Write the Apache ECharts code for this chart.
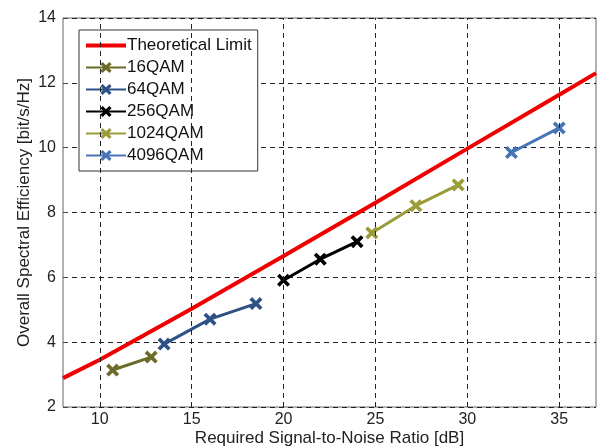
<!DOCTYPE html>
<html><head><meta charset="utf-8">
<script src="https://cdn.jsdelivr.net/npm/echarts@6/dist/echarts.min.js"></script>
<style>html,body{margin:0;padding:0;background:#fff}#c{width:601px;height:448px}</style>
</head><body><div id="c"></div>
<script>
var xTicks = [10, 15, 20, 25, 30, 35];
var limitSNR = [8, 10, 15, 20, 25, 30, 35, 37];
var limitSE = [2.89, 3.46, 5.03, 6.66, 8.3, 9.97, 11.63, 12.3];
var qam16SNR = [10.7, 12.8];
var qam16SE = [3.14, 3.54];
var qam64SNR = [13.5, 16.0, 18.5];
var qam64SE = [3.94, 4.71, 5.19];
var qam256SNR = [20.0, 22.0, 24.0];
var qam256SE = [5.91, 6.56, 7.1];
var qam1024SNR = [24.8, 27.2, 29.5];
var qam1024SE = [7.37, 8.21, 8.85];
var qam4096SNR = [32.4, 35.0];
var qam4096SE = [9.85, 10.61];

function pairs(xs, ys){ return xs.map(function(x,i){ return [x, ys[i]]; }); }
var X = 'path://M0,2 L2,0 L5,3 L8,0 L10,2 L7,5 L10,8 L8,10 L5,7 L2,10 L0,8 L3,5 Z';
var BAR = 'path://M0,0 L40,0 L40,0.01 L0,0.01 Z M0,5 L40,5 L40,9 L0,9 Z M0,13.99 L40,13.99 L40,14 L0,14 Z';
function qam(name, xs, ys, color){
  return {name:name, type:'line', data:pairs(xs,ys), symbol:X, symbolSize:13,
    lineStyle:{color:color,width:3}, itemStyle:{color:color}, z:3, animation:false};
}
var font = 'Liberation Sans, Arial, sans-serif';
var chart = echarts.init(document.getElementById('c'));
chart.setOption({
  animation:false,
  grid:{left:63, right:5, top:18, bottom:41, show:true, borderColor:'#666', borderWidth:1,
    containLabel:false, outerBoundsMode:'none'},
  legend:{orient:'vertical', left:79, top:30, padding:[7,6,7,6], backgroundColor:'#fff',
    borderColor:'#333', borderWidth:1, itemWidth:40, itemHeight:14, itemGap:5,
    textStyle:{fontFamily:font, fontSize:17, color:'#111', padding:[0,0,0,-4]},
    data:[{name:'Theoretical Limit', icon:BAR, itemStyle:{color:'#f00000'}},'16QAM','64QAM','256QAM','1024QAM','4096QAM']},
  xAxis:{type:'value', min:8, max:37,
    name:'Required Signal-to-Noise Ratio [dB]', nameLocation:'middle', nameGap:23, nameMoveOverlap:false,
    nameTextStyle:{fontFamily:font, fontSize:17, color:'#222'},
    axisLine:{show:false},
    axisTick:{show:true, inside:true, length:5, lineStyle:{color:'#444'}, customValues:xTicks},
    axisLabel:{fontFamily:font, fontSize:16, color:'#222', margin:5, customValues:xTicks},
    splitLine:{show:false}},
  yAxis:{type:'value', min:2, max:14, interval:2,
    name:'Overall Spectral Efficiency [bit/s/Hz]', nameLocation:'middle', nameGap:30, nameMoveOverlap:false,
    nameTextStyle:{fontFamily:font, fontSize:17, color:'#222'},
    axisLine:{show:false},
    axisTick:{show:true, inside:true, length:5, lineStyle:{color:'#444'}},
    axisLabel:{fontFamily:font, fontSize:16, color:'#222', margin:7},
    splitLine:{show:true, lineStyle:{color:'#222', type:[5,4], width:1}}},
  series:[
    {name:'Theoretical Limit', type:'line', data:pairs(limitSNR, limitSE), symbol:'none', showSymbol:false,
      lineStyle:{color:'#f00000', width:4}, itemStyle:{color:'#f00000'}, z:4,
      markLine:{silent:true, symbol:'none', label:{show:false},
        lineStyle:{color:'#222', type:[5,4], width:1},
        data:xTicks.map(function(v){ return {xAxis:v}; })}},
    qam('16QAM', qam16SNR, qam16SE, '#6b6b2a'),
    qam('64QAM', qam64SNR, qam64SE, '#2e5283'),
    qam('256QAM', qam256SNR, qam256SE, '#000000'),
    qam('1024QAM', qam1024SNR, qam1024SE, '#9b9b38'),
    qam('4096QAM', qam4096SNR, qam4096SE, '#4674b6')
  ]
});
</script></body></html>
